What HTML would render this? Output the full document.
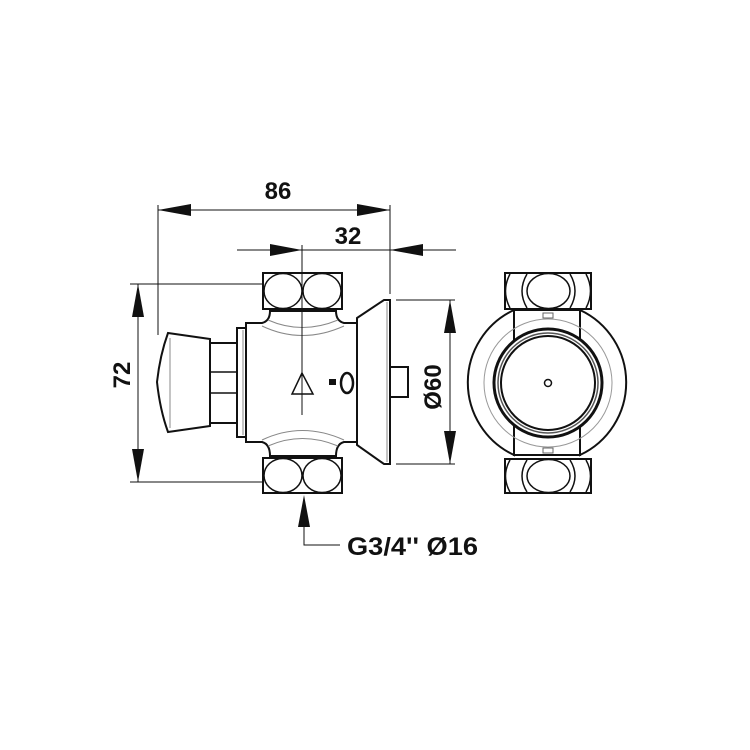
<!DOCTYPE html>
<html><head><style>
html,body{margin:0;padding:0;background:#fff;}
svg{display:block;}
text{font-family:"Liberation Sans",Arial,sans-serif;font-weight:bold;fill:#111;}
</style></head><body>
<svg width="750" height="750" viewBox="0 0 750 750" xmlns="http://www.w3.org/2000/svg">
<rect width="750" height="750" fill="#fff"/>
<g stroke="#111" stroke-width="1" fill="none">
  <line x1="158" y1="205" x2="158" y2="335"/>
  <line x1="390" y1="205" x2="390" y2="294"/>
  <line x1="158" y1="210" x2="390" y2="210"/>
  <line x1="237" y1="250" x2="456" y2="250"/>
  <line x1="130" y1="284" x2="264" y2="284"/>
  <line x1="130" y1="482" x2="264" y2="482"/>
  <line x1="138" y1="284" x2="138" y2="482"/>
  <line x1="396" y1="300" x2="455" y2="300"/>
  <line x1="396" y1="464" x2="455" y2="464"/>
  <line x1="450" y1="300" x2="450" y2="464"/>
  <polyline points="304,520 304,545 340,545"/>
</g>
<g fill="#111">
  <polygon points="158,210 191,204 191,216"/>
  <polygon points="390,210 357,204 357,216"/>
  <polygon points="302,250 270,244 270,256"/>
  <polygon points="390,250 423,244 423,256"/>
  <polygon points="138,284 132,317 144,317"/>
  <polygon points="138,482 132,449 144,449"/>
  <polygon points="450,300 444,333 456,333"/>
  <polygon points="450,464 444,431 456,431"/>
  <polygon points="304,495 298,527 310,527"/>
</g>
<text x="278" y="199" font-size="24" text-anchor="middle">86</text>
<text x="348" y="244" font-size="24" text-anchor="middle">32</text>
<text x="0" y="0" font-size="24" text-anchor="middle" transform="translate(130,375) rotate(-90)">72</text>
<text x="0" y="0" font-size="24" text-anchor="middle" transform="translate(441,387) rotate(-90)">Ø60</text>
<text x="347" y="555" font-size="25" textLength="131" lengthAdjust="spacingAndGlyphs">G3/4'' Ø16</text>

<!-- side view -->
<g stroke="#111" stroke-width="2" fill="#fff">
  <path d="M246,323 L262,323 Q270,321 270,311 L336,311 Q336,321 344,323 L357,323 L357,442 L344,442 Q336,444 336,456 L270,456 Q270,444 262,442 L246,442 Z"/>
  <rect x="237" y="328" width="9" height="109"/>
  <rect x="210" y="343" width="27" height="80"/>
  <path d="M168,333 L210,339 L210,426 L168,432 Q160,410 157,382 Q160,355 168,333 Z"/>
  <rect x="263" y="273" width="79" height="36"/>
  <rect x="263" y="458" width="79" height="35"/>
  <path d="M357,318 L384,300 L390,300 L390,464 L384,464 L357,445 Z"/>
  <rect x="390" y="367" width="18" height="30"/>
</g>
<g stroke="#111" stroke-width="1.5" fill="none">
  <ellipse cx="283" cy="291" rx="19" ry="17.5"/>
  <ellipse cx="322" cy="291" rx="19" ry="17.5"/>
  <ellipse cx="283" cy="475.5" rx="19" ry="17"/>
  <ellipse cx="322" cy="475.5" rx="19" ry="17"/>
  <line x1="210" y1="372" x2="237" y2="372"/>
  <line x1="210" y1="393" x2="237" y2="393"/>
  <polygon points="302,373 292,394 313,394"/>
  <ellipse cx="347" cy="383" rx="6" ry="10" stroke-width="2.5"/>
</g>
<g stroke="#888" stroke-width="1" fill="none">
  <path d="M262,326 Q302,345 344,326 M268,320 Q302,335 338,320"/>
  <path d="M262,440 Q302,421 344,440 M268,446 Q302,431 338,446"/>
  <line x1="170" y1="338" x2="170" y2="428"/>
  <line x1="387" y1="302" x2="387" y2="462"/>
  <line x1="243" y1="330" x2="243" y2="435"/>
</g>
<rect x="329" y="379" width="7" height="6" fill="#111"/>
<line x1="302" y1="245" x2="302" y2="415" stroke="#111" stroke-width="1"/>

<!-- front view -->
<g stroke="#111" stroke-width="2" fill="#fff">
  <path d="M514,310 A80,80 0 0,0 514,455 Z"/>
  <path d="M580,310 A80,80 0 0,1 580,455 Z"/>
  <rect x="514" y="310" width="66" height="145"/>
  <rect x="505" y="273" width="86" height="36"/>
  <rect x="505" y="459" width="86" height="34"/>
</g>
<g stroke="#111" stroke-width="1.5" fill="none">
  <path d="M510,274 Q501,291 510,308 M527,274 Q517,291 527,308 M570,274 Q580,291 570,308 M586,274 Q595,291 586,308"/>
  <ellipse cx="548.5" cy="291" rx="21.5" ry="17.5"/>
  <path d="M510,460 Q501,476 510,492 M527,460 Q517,476 527,492 M570,460 Q580,476 570,492 M586,460 Q595,476 586,492"/>
  <ellipse cx="548.5" cy="476" rx="21.5" ry="16.5"/>
</g>
<circle cx="548" cy="383" r="64" stroke="#999" stroke-width="1" fill="none"/>
<circle cx="548" cy="383" r="54" stroke="#111" stroke-width="3" fill="#fff"/>
<circle cx="548" cy="383" r="50" stroke="#555" stroke-width="1.5" fill="none"/>
<circle cx="548" cy="383" r="47" stroke="#111" stroke-width="2" fill="none"/>
<circle cx="548" cy="383" r="3.5" stroke="#111" stroke-width="1.5" fill="none"/>
<rect x="543" y="313" width="10" height="5" fill="none" stroke="#666" stroke-width="1"/>
<rect x="543" y="448" width="10" height="5" fill="none" stroke="#666" stroke-width="1"/>
</svg>
</body></html>
